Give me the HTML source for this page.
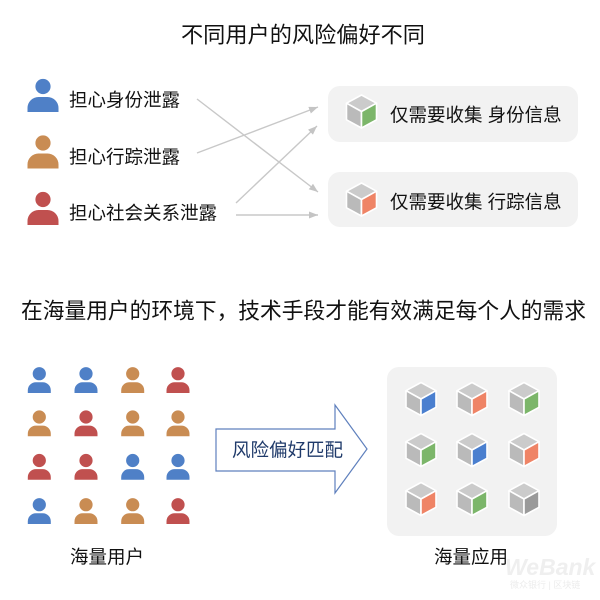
<!DOCTYPE html>
<html><head><meta charset="utf-8"><style>
html,body{margin:0;padding:0;background:#fff}
svg{display:block}
svg text{font-family:"Liberation Sans","Noto Sans CJK SC",sans-serif}
</style></head><body>
<svg width="600" height="600" viewBox="0 0 600 600" xmlns="http://www.w3.org/2000/svg">
<defs>
<marker id="ah" markerUnits="userSpaceOnUse" markerWidth="10" markerHeight="8" refX="9" refY="4" orient="auto">
<path d="M0,0.5 L9,4 L0,7.5 Z" fill="#c4c4c4"/>
</marker>
<g id="cube" stroke="#fff" stroke-width="1.6" stroke-linejoin="round">
<path d="M0,-16.5 L15,-8.3 L0,0 L-15,-8.3 Z" fill="#cbcbcb"/>
<path d="M-15,-8.3 L0,0 L0,16.5 L-15,8.3 Z" fill="#bababa"/>
<path d="M15,-8.3 L15,8.3 L0,16.5 L0,0 Z" fill="currentColor"/>
</g>
<g id="pbig">
<circle cx="0" cy="0" r="7.6"/>
<path d="M-15.5,25.5 V21.5 A11 11 0 0 1 -4.5,10.5 H4.5 A11 11 0 0 1 15.5,21.5 V25.5 Z"/>
</g>
<g id="psm">
<circle cx="0" cy="0" r="6.6"/>
<path d="M-11.5,19.3 V16.6 A8 8 0 0 1 -3.5,8.6 H3.5 A8 8 0 0 1 11.5,16.6 V19.3 Z"/>
</g>
</defs>

<text x="303" y="35" font-size="22" text-anchor="middle" dominant-baseline="central" fill="#111" textLength="244" lengthAdjust="spacingAndGlyphs">不同用户的风险偏好不同</text>

<use href="#pbig" x="43" y="86.5" fill="#4f80c7"/>
<use href="#pbig" x="43" y="143" fill="#c98c53"/>
<use href="#pbig" x="43" y="199.5" fill="#c0504f"/>

<text x="69" y="100" font-size="18.5" dominant-baseline="central" fill="#111">担心身份泄露</text>
<text x="69" y="157" font-size="18.5" dominant-baseline="central" fill="#111">担心行踪泄露</text>
<text x="69" y="213" font-size="18.5" dominant-baseline="central" fill="#111">担心社会关系泄露</text>

<g stroke="#c8c8c8" stroke-width="1.4" fill="none" marker-end="url(#ah)">
<line x1="197" y1="99" x2="318" y2="192"/>
<line x1="197" y1="153" x2="318" y2="107"/>
<line x1="236" y1="203" x2="317" y2="126"/>
<line x1="236" y1="215" x2="318" y2="215"/>
</g>

<rect x="328" y="86" width="250" height="56" rx="12" fill="#f2f2f2"/>
<rect x="328" y="172" width="250" height="55" rx="12" fill="#f2f2f2"/>
<use href="#cube" x="361.5" y="111.5" color="#7cb66a"/>
<use href="#cube" x="361.5" y="199.5" color="#ef8466"/>
<text x="390" y="115" font-size="18.5" dominant-baseline="central" fill="#111">仅需要收集 身份信息</text>
<text x="390" y="202" font-size="18.5" dominant-baseline="central" fill="#111">仅需要收集 行踪信息</text>

<text x="303.5" y="311" font-size="22" text-anchor="middle" dominant-baseline="central" fill="#111" textLength="565" lengthAdjust="spacingAndGlyphs">在海量用户的环境下，技术手段才能有效满足每个人的需求</text>

<g>
<use href="#psm" x="39.3" y="373.7" fill="#4f80c7"/>
<use href="#psm" x="86" y="373.7" fill="#4f80c7"/>
<use href="#psm" x="132.7" y="373.7" fill="#c98c53"/>
<use href="#psm" x="178" y="373.7" fill="#c0504f"/>

<use href="#psm" x="39.3" y="417" fill="#c98c53"/>
<use href="#psm" x="86" y="417" fill="#c0504f"/>
<use href="#psm" x="132.7" y="417" fill="#c98c53"/>
<use href="#psm" x="178" y="417" fill="#c98c53"/>

<use href="#psm" x="39.3" y="460.5" fill="#c0504f"/>
<use href="#psm" x="86" y="460.5" fill="#c0504f"/>
<use href="#psm" x="132.7" y="460.5" fill="#4f80c7"/>
<use href="#psm" x="178" y="460.5" fill="#4f80c7"/>

<use href="#psm" x="39.3" y="504.7" fill="#4f80c7"/>
<use href="#psm" x="86" y="504.7" fill="#c98c53"/>
<use href="#psm" x="132.7" y="504.7" fill="#c98c53"/>
<use href="#psm" x="178" y="504.7" fill="#c0504f"/>
</g>
<text x="107" y="557" font-size="18.5" text-anchor="middle" dominant-baseline="central" fill="#111">海量用户</text>

<polygon points="216,429 335,429 335,405 367,449 335,493 335,471 216,471" fill="#fff" stroke="#5f80bd" stroke-width="1.2" stroke-linejoin="miter"/>
<text x="287.5" y="450" font-size="18.5" text-anchor="middle" dominant-baseline="central" fill="#1f3a6a">风险偏好匹配</text>

<rect x="387" y="367" width="170" height="169" rx="12" fill="#f2f2f2"/>
<use href="#cube" x="421" y="399" color="#4a7fcf"/>
<use href="#cube" x="472" y="399" color="#ef8466"/>
<use href="#cube" x="524" y="399" color="#7cb66a"/>
<use href="#cube" x="421" y="450" color="#7cb66a"/>
<use href="#cube" x="472" y="450" color="#4a7fcf"/>
<use href="#cube" x="524" y="450" color="#ef8466"/>
<use href="#cube" x="421" y="499" color="#ef8466"/>
<use href="#cube" x="472" y="499" color="#7cb66a"/>
<use href="#cube" x="524" y="499" color="#9a9a9a"/>

<text x="505" y="575" font-size="23" font-weight="bold" font-style="italic" fill="#efefef">WeBank</text>
<text x="510" y="588" font-size="9" fill="#ececec">微众银行 | 区块链</text>

<text x="471" y="557" font-size="18.5" text-anchor="middle" dominant-baseline="central" fill="#111">海量应用</text>
</svg>
</body></html>
